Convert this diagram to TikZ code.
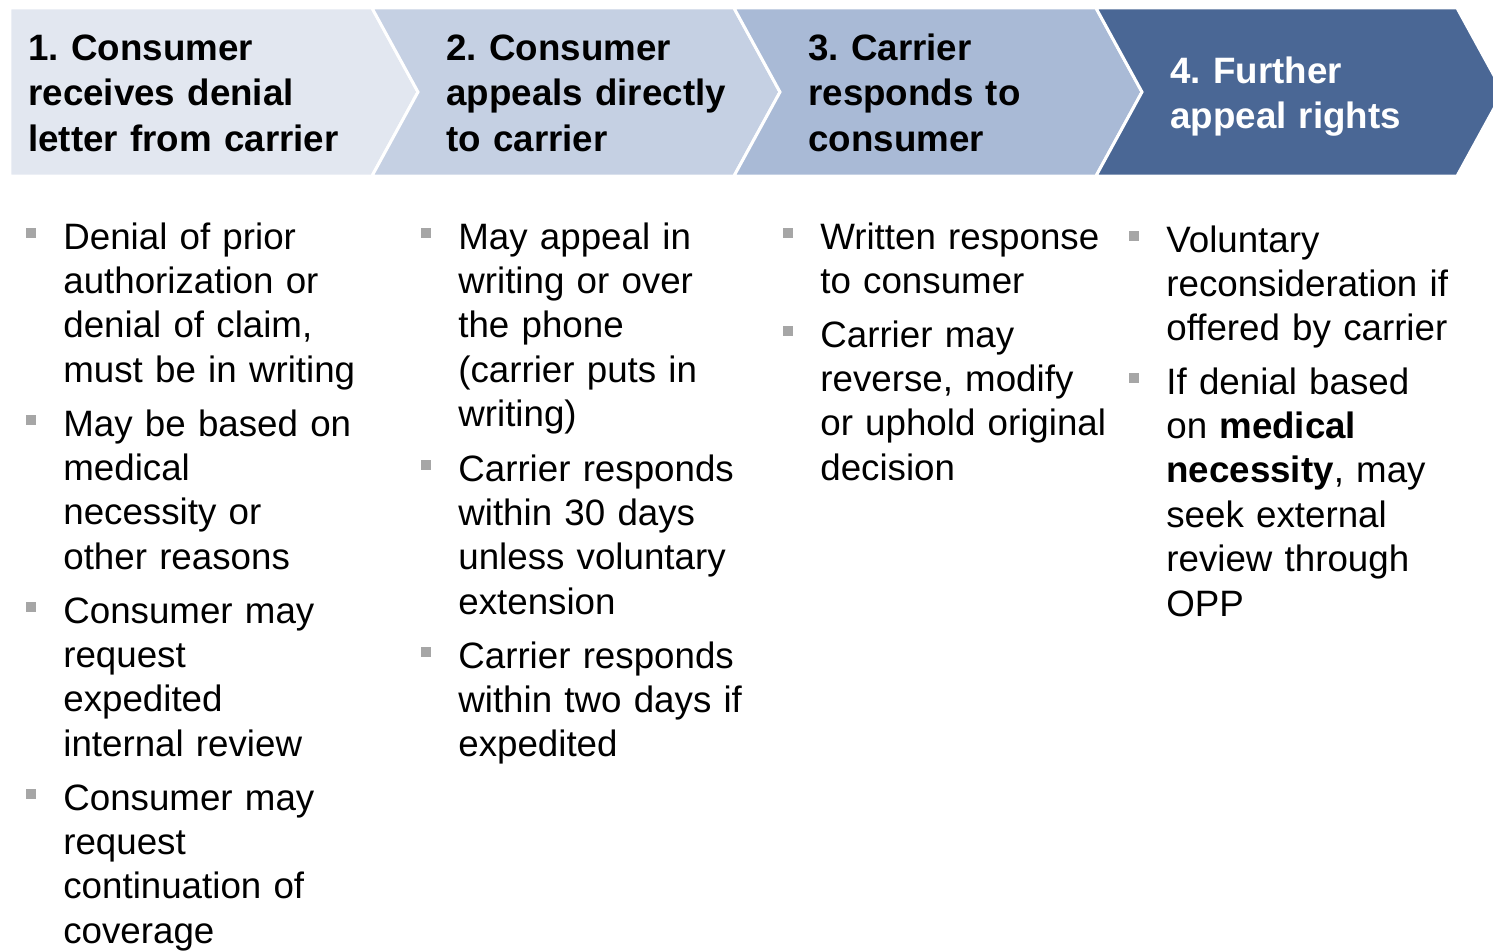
\documentclass[tikz,border=0pt]{standalone}
\usepackage{fontspec}
\setmainfont{Liberation Sans}
\usepackage{tikz}
\frenchspacing

\definecolor{stepA}{HTML}{E2E7F0}
\definecolor{stepB}{HTML}{C5D0E3}
\definecolor{stepC}{HTML}{A9BAD6}
\definecolor{stepD}{HTML}{4A6795}
\definecolor{bulletgray}{HTML}{A6A6A6}

\begin{document}
\begin{tikzpicture}[x=0.02cm, y=-0.02cm,
        sep/.style={draw=white, line width=1.7pt, line join=miter},
        headtext/.style={anchor=base west, text width=8cm, align=left, inner sep=0pt,
            font=\fontsize{20.9}{25.9}\selectfont\bfseries},
        itemtext/.style={anchor=base west, text width=8cm, align=left, inner sep=0pt,
            font=\fontsize{20.9}{25.3}\selectfont},
        bullet/.style={fill=bulletgray}]
    \useasboundingbox (0,0) rectangle (1493,951);

    % chevrons
    \filldraw[stepA, sep] (10,8) -- (372,8) -- (418,92) -- (372,176) -- (10,176) -- cycle;
    \filldraw[stepB, sep] (372,8) -- (734,8) -- (780,92) -- (734,176) -- (372,176) -- (418,92) -- cycle;
    \filldraw[stepC, sep] (734,8) -- (1096,8) -- (1142,92) -- (1096,176) -- (734,176) -- (780,92) -- cycle;
    \filldraw[stepD, sep] (1096,8) -- (1457,8) -- (1503,92) -- (1457,176) -- (1096,176) -- (1142,92) -- cycle;

    \node[headtext] (h1) at (28,60) {1. Consumer\\receives denial\\letter from carrier};
    \node[headtext] (h2) at (446,60) {2. Consumer\\appeals directly\\to carrier};
    \node[headtext] (h3) at (808,60) {3. Carrier\\responds to\\consumer};
    \node[headtext, text=white] (h4) at (1170,83) {4. Further\\appeal rights};

    % column 1
    \node[itemtext] (c1a) at (63,249) {Denial of prior\\authorization or\\denial of claim,\\must be in writing};
    \node[itemtext] (c1b) at (63,436) {May be based on\\medical\\necessity or\\other reasons};
    \node[itemtext] (c1c) at (63,623) {Consumer may\\request\\expedited\\internal review};
    \node[itemtext] (c1d) at (63,810) {Consumer may\\request\\continuation of\\coverage};

    % column 2
    \node[itemtext] (c2a) at (458,249) {May appeal in\\writing or over\\the phone\\(carrier puts in\\writing)};
    \node[itemtext] (c2b) at (458,481) {Carrier responds\\within 30 days\\unless voluntary\\extension};
    \node[itemtext] (c2c) at (458,668) {Carrier responds\\within two days if\\expedited};

    % column 3
    \node[itemtext] (c3a) at (820,249) {Written response\\to consumer};
    \node[itemtext] (c3b) at (820,347) {Carrier may\\reverse, modify\\or uphold original\\decision};

    % column 4
    \node[itemtext] (c4a) at (1166,252) {Voluntary\\reconsideration if\\offered by carrier};
    \node[itemtext] (c4b) at (1166,394) {If denial based\\on \textbf{medical}\\\textbf{necessity}, may\\seek external\\review through\\OPP};

    % square bullets
    \foreach \n in {c1a,c1b,c1c,c1d,c2a,c2b,c2c,c3a,c3b,c4a,c4b}
        \fill[bullet] ([shift={(-37,-21)}]\n.base west) rectangle +(10,10);
\end{tikzpicture}
\end{document}
